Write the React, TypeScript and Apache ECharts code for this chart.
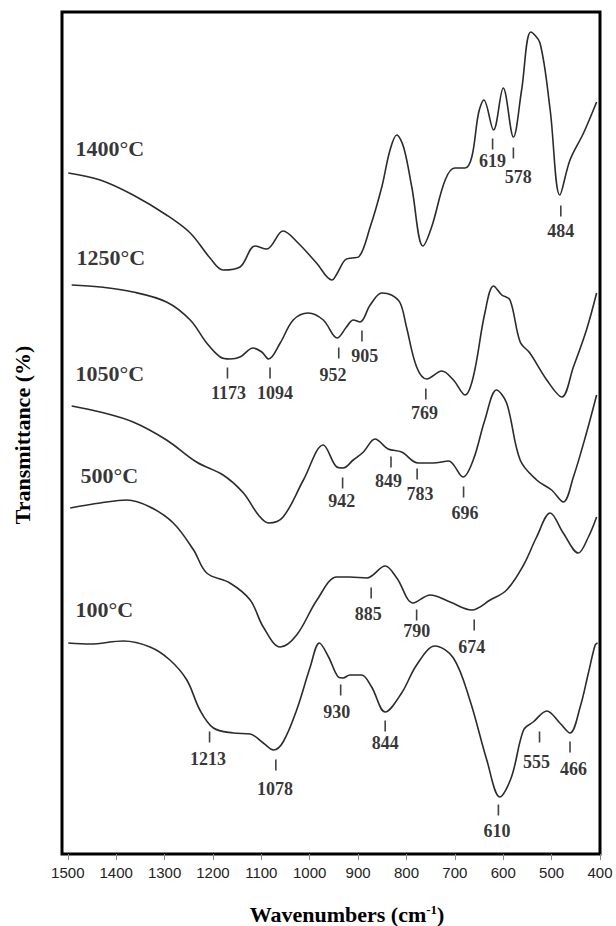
import React, { useEffect, useRef } from 'react';
import * as echarts from 'echarts';

// x-axis tick values (wavenumber, cm-1)
const xTicks = [400, 500, 600, 700, 800, 900, 1000, 1100, 1200, 1300, 1400, 1500];

// Spectra: [wavenumber, transmittance (a.u., curves offset)]
const s1400: [number, number][] = [
  [1499, 681], [1433, 674], [1365, 659], [1296, 639], [1247, 621], [1206, 596], [1179, 584],
  [1144, 587], [1113, 608], [1089, 605], [1055, 623], [1024, 611], [986, 591], [954, 574],
  [944, 580], [927, 594], [913, 596], [899, 597], [875, 627], [851, 667], [834, 704],
  [820, 719], [806, 707], [789, 667], [766, 608], [748, 627], [720, 674], [700, 686],
  [679, 686], [665, 697], [651, 741], [640, 754], [620, 724], [600, 766], [579, 717],
  [562, 764], [543, 822], [524, 811], [503, 744], [483, 659], [462, 694], [434, 721], [407, 752],
];
const s1250: [number, number][] = [
  [1492, 569], [1433, 567], [1365, 562], [1296, 552], [1247, 534], [1213, 511], [1185, 497],
  [1165, 495], [1144, 497], [1117, 506], [1099, 502], [1085, 495], [1061, 511], [1034, 534],
  [1003, 541], [972, 534], [943, 516], [924, 527], [910, 534], [896, 532], [875, 549],
  [851, 561], [831, 559], [813, 551], [800, 527], [779, 487], [758, 475], [727, 483],
  [703, 474], [679, 459], [662, 477], [638, 541], [620, 568], [603, 559], [586, 554],
  [565, 512], [545, 501], [510, 474], [479, 457], [455, 487], [428, 524], [407, 561],
];
const s1050: [number, number][] = [
  [1492, 448], [1433, 442], [1365, 432], [1296, 414], [1234, 392], [1179, 379], [1137, 361],
  [1106, 339], [1085, 331], [1055, 337], [1013, 374], [972, 409], [944, 387], [931, 386],
  [910, 394], [889, 402], [865, 415], [838, 405], [810, 402], [776, 391], [745, 391],
  [713, 393], [683, 377], [662, 394], [638, 434], [614, 464], [593, 451], [565, 394],
  [531, 374], [500, 364], [476, 352], [455, 377], [428, 421], [407, 459],
];
const s500: [number, number][] = [
  [1495, 346], [1433, 351], [1378, 354], [1330, 347], [1282, 331], [1240, 304], [1213, 281],
  [1165, 271], [1123, 254], [1096, 227], [1061, 207], [1027, 219], [985, 254], [944, 277],
  [917, 277], [882, 276], [844, 288], [820, 276], [786, 251], [751, 259], [710, 252],
  [665, 244], [627, 254], [593, 264], [558, 289], [531, 317], [503, 341], [476, 321],
  [445, 301], [424, 317], [407, 337],
];
const s100: [number, number][] = [
  [1499, 211], [1454, 210], [1385, 213], [1330, 207], [1289, 194], [1254, 174], [1227, 144],
  [1199, 126], [1158, 121], [1123, 120], [1096, 111], [1075, 104], [1055, 112], [1027, 144],
  [999, 187], [980, 211], [961, 197], [941, 177], [931, 176], [917, 179], [893, 179],
  [872, 167], [844, 142], [810, 161], [779, 189], [741, 208], [703, 196], [669, 154],
  [634, 94], [607, 57], [583, 77], [558, 124], [538, 132], [510, 143], [483, 131],
  [462, 121], [441, 147], [424, 181], [410, 209], [405, 211],
];

// Curve names: [text, wavenumber at left of text, level]
const tempLabels: [string, number, number][] = [
  ['1400°C', 1485, 706],
  ['1250°C', 1483, 597],
  ['1050°C', 1485, 481],
  ['500°C', 1475, 379],
  ['100°C', 1485, 245],
];

// Peak marks: [text, tick wavenumber, tick level, label wavenumber, label level]
const peaks1400: [string, number, number, number, number][] = [
  ['619', 622, 710, 622, 693],
  ['578', 579, 701, 569, 677],
  ['484', 481, 643, 481, 623],
];
const peaks1250: [string, number, number, number, number][] = [
  ['1173', 1170, 481, 1168, 461],
  ['1094', 1082, 481, 1072, 461],
  ['952', 940, 501, 952, 479],
  ['905', 892, 518, 886, 498],
  ['769', 760, 460, 763, 441],
];
const peaks1050: [string, number, number, number, number][] = [
  ['942', 932, 371, 934, 353],
  ['849', 832, 392, 837, 373],
  ['783', 778, 380, 772, 360],
  ['696', 682, 362, 679, 341],
];
const peaks500: [string, number, number, number, number][] = [
  ['885', 873, 261, 879, 240],
  ['790', 779, 239, 779, 223],
  ['674', 660, 229, 665, 207],
];
const peaks100: [string, number, number, number, number][] = [
  ['1213', 1207, 117, 1210, 95],
  ['1078', 1070, 89, 1072, 65],
  ['930', 936, 164, 944, 142],
  ['844', 844, 128, 844, 111],
  ['610', 610, 44, 613, 23],
  ['555', 525, 117, 531, 92],
  ['466', 462, 107, 455, 85],
];

const SERIF = '"Liberation Serif", "Times New Roman", serif';

export default function App() {
  const ref = useRef<HTMLDivElement>(null);

  useEffect(() => {
    if (!ref.current) return;
    const chart = echarts.init(ref.current, undefined, { renderer: 'svg' });
    const curves = [s1400, s1250, s1050, s500, s100];
    const peaks = [...peaks1400, ...peaks1250, ...peaks1050, ...peaks500, ...peaks100];

    const lineSeries = curves.map((d) => ({
      type: 'line',
      data: d,
      smooth: 0.35,
      showSymbol: false,
      silent: true,
      lineStyle: { color: '#2b2b2b', width: 1.6 },
      z: 2,
    }));

    chart.setOption({
      animation: false,
      backgroundColor: '#fff',
      grid: {
        left: 62,
        right: 16,
        top: 12,
        bottom: 72,
        show: true,
        borderColor: '#000',
        borderWidth: 3,
        containLabel: false,
      },
      xAxis: {
        type: 'value',
        inverse: true,
        min: 400,
        max: 1512,
        interval: 100,
        splitLine: { show: false },
        axisLine: { show: false },
        axisTick: {
          show: true,
          inside: false,
          length: 6,
          customValues: xTicks,
          lineStyle: { color: '#888', width: 1 },
        },
        axisLabel: {
          customValues: xTicks,
          margin: 11,
          formatter: (v: number) => String(v),
          fontFamily: '"Liberation Sans", Arial, sans-serif',
          fontSize: 15,
          color: '#222',
        },
      },
      yAxis: {
        type: 'value',
        min: 0,
        max: 842,
        show: false,
        splitLine: { show: false },
      },
      graphic: [
        {
          type: 'text',
          x: 22,
          y: 435,
          rotation: Math.PI / 2,
          style: {
            text: 'Transmittance (%)',
            font: 'bold 22px ' + SERIF,
            fill: '#000',
            textAlign: 'center',
            textVerticalAlign: 'middle',
          },
        },
        {
          type: 'text',
          x: 347,
          y: 914,
          style: {
            text: '{b|Wavenumbers (cm}{sup|-1}{b|)}',
            textAlign: 'center',
            textVerticalAlign: 'middle',
            fill: '#000',
            rich: {
              b: { font: 'bold 22px ' + SERIF, fill: '#000', verticalAlign: 'bottom' },
              sup: { font: 'bold 13px ' + SERIF, fill: '#000', verticalAlign: 'top' },
            },
          },
        },
      ],
      series: [
        ...lineSeries,
        {
          type: 'scatter',
          silent: true,
          symbol: 'rect',
          symbolSize: [1.6, 11],
          itemStyle: { color: '#111' },
          data: peaks.map((p) => [p[1], p[2]]),
          z: 3,
        },
        {
          type: 'scatter',
          silent: true,
          symbolSize: 1,
          itemStyle: { color: 'rgba(0,0,0,0)' },
          data: peaks.map((p) => [p[3], p[4], p[0]]),
          label: {
            show: true,
            position: 'inside',
            formatter: (p: any) => p.value[2],
            fontFamily: SERIF,
            fontWeight: 'bold',
            fontSize: 18,
            color: '#000',
          },
          z: 4,
        },
        {
          type: 'scatter',
          silent: true,
          symbolSize: 1,
          itemStyle: { color: 'rgba(0,0,0,0)' },
          data: tempLabels.map((t) => [t[1], t[2], t[0]]),
          label: {
            show: true,
            position: 'right',
            distance: 0,
            formatter: (p: any) => p.value[2],
            fontFamily: SERIF,
            fontWeight: 'bold',
            fontSize: 22,
            color: '#000',
          },
          z: 4,
        },
      ],
    });
    return () => chart.dispose();
  }, []);

  return (
    <div
      ref={ref}
      style={{ position: 'fixed', left: 0, top: 0, width: 616, height: 926, background: '#fff' }}
    />
  );
}
